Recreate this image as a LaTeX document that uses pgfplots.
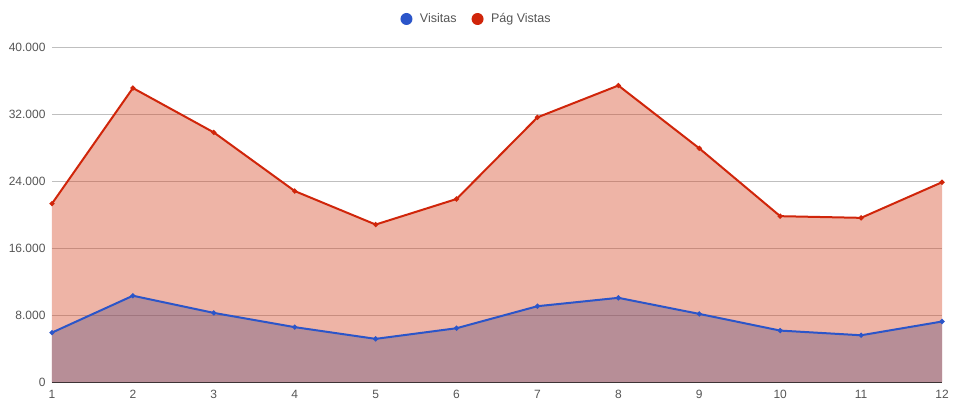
\documentclass[border=0pt]{standalone}
\usepackage{fontspec}
\setmainfont{Liberation Sans}
\usepackage{pgfplots}
\usepackage{pgfplotstable}
\pgfplotsset{compat=1.18}
\definecolor{vblue}{HTML}{2B55C9}
\definecolor{pred}{HTML}{D0250A}
\definecolor{redfill}{HTML}{D44420}
\definecolor{bluefill}{HTML}{675580}
\definecolor{txt}{HTML}{555555}
\pgfplotstableread{
x pag vis
1 21300 5900
2 35100 10300
3 29800 8250
4 22800 6550
5 18800 5150
6 21850 6420
7 31600 9050
8 35400 10050
9 27900 8130
10 19800 6140
11 19600 5580
12 23850 7220
}\datatable
\begin{document}
\begin{tikzpicture}
\path[use as bounding box] (-52bp,-30bp) rectangle (907bp,382bp);
\begin{axis}[
  at={(0,0)}, anchor=south west,
  scale only axis, width=890bp, height=335bp,
  xmin=1, xmax=12, ymin=0, ymax=40000,
  xtick={1,...,12}, ytick={0,8000,...,40000},
  ymajorgrids,
  grid style={black!25, line width=0.8bp},
  axis x line*=bottom, axis y line*=left,
  y axis line style={draw=none},
  x axis line style={-, draw=black!80, line width=1bp},
  tick style={draw=none}, major tick length=0pt,
  scaled y ticks=false,
  /pgf/number format/assume math mode=true,
  /pgf/number format/1000 sep={.},
  tick label style={font=\fontsize{12bp}{14bp}\selectfont, text=txt},
  xticklabel style={yshift=-5bp},
  yticklabel style={xshift=-3bp},
  legend style={at={(0.477,1.0836)}, anchor=center, draw=none, fill=none,
    font=\fontsize{12.5bp}{14bp}\selectfont, text=txt,
    /tikz/every odd column/.append style={column sep=5.5bp},
    /tikz/every even column/.append style={column sep=13bp}},
  legend columns=2,
  legend image code/.code={\fill[#1, draw=none] (6bp,0) circle (6bp);},
]
\addplot[fill=redfill, fill opacity=0.4, draw=none, forget plot] table[x=x, y=pag] {\datatable} \closedcycle;
\addplot[fill=bluefill, fill opacity=0.4, draw=none, forget plot] table[x=x, y=vis] {\datatable} \closedcycle;
\addplot[color=vblue, line width=2bp, mark=*, mark size=1.4bp] table[x=x, y=vis] {\datatable};
\addlegendentry{Visitas}
\addplot[color=pred, line width=2bp, mark=*, mark size=1.4bp] table[x=x, y=pag] {\datatable};
\addlegendentry{Pág Vistas}
\end{axis}
\end{tikzpicture}
\end{document}
